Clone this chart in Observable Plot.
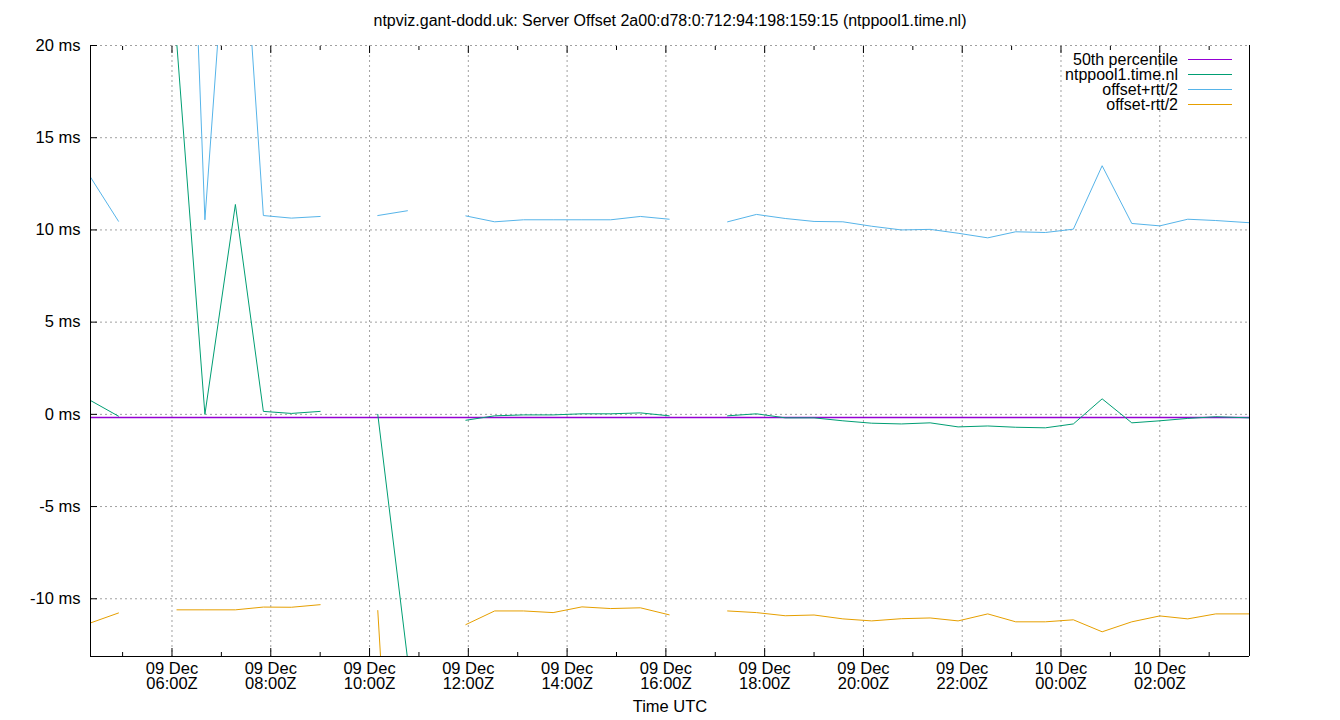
<!DOCTYPE html>
<html>
<head>
<meta charset="utf-8">
<script src="https://cdn.jsdelivr.net/npm/d3@7"></script>
<script src="https://cdn.jsdelivr.net/npm/@observablehq/plot@0.6"></script>
<style>
  body { margin: 0; background: #fff; }
  #wrap { position: relative; width: 1340px; height: 720px; font-family: "Liberation Sans", Arial, sans-serif; }
  #legend { position: absolute; left: 960px; top: 52px; font-size: 16px; color: #000; }
  .row { display: flex; align-items: center; height: 15px; line-height: 15px; }
  .row .lab { width: 218px; text-align: right; white-space: nowrap; }
  .row .sw { width: 44px; height: 0; border-top: 1.5px solid; margin-left: 10px; }
</style>
</head>
<body>
<div id="wrap"><div id="legend"></div></div>
<script>
const title = "ntpviz.gant-dodd.uk: Server Offset 2a00:d78:0:712:94:198:159:15 (ntppool1.time.nl)";
const xLabel = "Time UTC";

const times = [
  "2024-12-09T04:21:00Z", "2024-12-09T04:55:00Z", "2024-12-09T05:30:00Z", "2024-12-09T06:06:00Z",
  "2024-12-09T06:40:00Z", "2024-12-09T07:17:00Z", "2024-12-09T07:51:00Z", "2024-12-09T08:25:00Z",
  "2024-12-09T09:00:00Z", "2024-12-09T09:35:00Z", "2024-12-09T10:10:00Z", "2024-12-09T10:46:00Z",
  "2024-12-09T11:22:00Z", "2024-12-09T11:57:00Z", "2024-12-09T12:32:00Z", "2024-12-09T13:07:00Z",
  "2024-12-09T13:43:00Z", "2024-12-09T14:18:00Z", "2024-12-09T14:53:00Z", "2024-12-09T15:29:00Z",
  "2024-12-09T16:04:00Z", "2024-12-09T16:39:00Z", "2024-12-09T17:15:00Z", "2024-12-09T17:50:00Z",
  "2024-12-09T18:25:00Z", "2024-12-09T19:00:00Z", "2024-12-09T19:35:00Z", "2024-12-09T20:10:00Z",
  "2024-12-09T20:46:00Z", "2024-12-09T21:21:00Z", "2024-12-09T21:55:00Z", "2024-12-09T22:31:00Z",
  "2024-12-09T23:05:00Z", "2024-12-09T23:41:00Z", "2024-12-10T00:15:00Z", "2024-12-10T00:50:00Z",
  "2024-12-10T01:26:00Z", "2024-12-10T02:00:00Z", "2024-12-10T02:34:00Z", "2024-12-10T03:08:00Z",
  "2024-12-10T03:49:00Z"
];

// ntppool1.time.nl offset (ms); null = no sample (line break)
const offset = [
  0.75, -0.10, null, 20.0, 0.0, 11.38, 0.16, 0.05, 0.16, null,
  0.0, -13.2, null, -0.32, -0.08, -0.03, -0.03, 0.03, 0.03, 0.08,
  -0.08, null, -0.08, 0.03, -0.19, -0.19, -0.35, -0.48, -0.52, -0.46,
  -0.68, -0.63, -0.70, -0.73, -0.52, 0.84, -0.46, -0.35, -0.22, -0.13,
  -0.19
];
// offset + rtt/2 (ms)
const plusRtt = [
  12.86, 10.47, null, 50.6, 10.55, 33.4, 10.78, 10.64, 10.73, null,
  10.78, 11.04, null, 10.76, 10.44, 10.55, 10.55, 10.55, 10.55, 10.73,
  10.58, null, 10.44, 10.84, 10.62, 10.46, 10.44, 10.20, 10.00, 10.03,
  9.82, 9.57, 9.90, 9.86, 10.04, 13.48, 10.35, 10.22, 10.58, 10.51,
  10.39
];
// offset - rtt/2 (ms)
const minusRtt = [
  -11.31, -10.77, null, -10.60, -10.60, -10.60, -10.45, -10.46, -10.32, null,
  -10.64, -37.4, null, -11.40, -10.66, -10.66, -10.75, -10.44, -10.53, -10.49,
  -10.87, null, -10.66, -10.75, -10.92, -10.88, -11.09, -11.20, -11.08, -11.04,
  -11.20, -10.82, -11.25, -11.25, -11.14, -11.79, -11.25, -10.93, -11.09, -10.82,
  -10.82
];
const median = -0.17;

const yTicks = [-10, -5, 0, 5, 10, 15, 20];
const yDomain = [-13.13, 20];
const xMajorTicks = [
  "2024-12-09T06:00:00Z", "2024-12-09T08:00:00Z", "2024-12-09T10:00:00Z", "2024-12-09T12:00:00Z",
  "2024-12-09T14:00:00Z", "2024-12-09T16:00:00Z", "2024-12-09T18:00:00Z", "2024-12-09T20:00:00Z",
  "2024-12-09T22:00:00Z", "2024-12-10T00:00:00Z", "2024-12-10T02:00:00Z"
];
const xMinorTicks = [
  "2024-12-09T05:00:00Z", "2024-12-09T07:00:00Z", "2024-12-09T09:00:00Z", "2024-12-09T11:00:00Z",
  "2024-12-09T13:00:00Z", "2024-12-09T15:00:00Z", "2024-12-09T17:00:00Z", "2024-12-09T19:00:00Z",
  "2024-12-09T21:00:00Z", "2024-12-09T23:00:00Z", "2024-12-10T01:00:00Z", "2024-12-10T03:00:00Z"
];
const seriesNames = ["50th percentile", "ntppool1.time.nl", "offset+rtt/2", "offset-rtt/2"];
const seriesColors = ["#9400d3", "#009e73", "#56b4e9", "#e69f00"];

const parse = s => new Date(s);
const num = v => (v == null ? NaN : v);
const rows = times.map((t, i) => ({
  time: parse(t), offset: num(offset[i]), plus: num(plusRtt[i]), minus: num(minusRtt[i])
}));
const majors = xMajorTicks.map(parse);
const minors = xMinorTicks.map(parse);
const xDomain = d3.extent(rows, d => d.time);
const fmt = d3.utcFormat("%d %b\n%H:%MZ");
const grid = {stroke: "#a0a0a0", strokeOpacity: 1, strokeWidth: 1, strokeDasharray: "2,3"};

const chart = Plot.plot({
  width: 1340,
  height: 720,
  marginTop: 45,
  marginBottom: 64,
  marginLeft: 90,
  marginRight: 91,
  style: {fontFamily: "'Liberation Sans', Arial, sans-serif", fontSize: "16.5px", color: "#000", background: "#fff", overflow: "visible"},
  x: {type: "utc", domain: xDomain},
  y: {type: "linear", domain: yDomain},
  marks: [
    Plot.gridY(yTicks, grid),
    Plot.gridX(majors, grid),
    Plot.ruleY([median], {stroke: seriesColors[0], strokeWidth: 1.5}),
    Plot.line(rows, {x: "time", y: "offset", stroke: seriesColors[1], strokeWidth: 1, clip: true}),
    Plot.line(rows, {x: "time", y: "plus", stroke: seriesColors[2], strokeWidth: 1, clip: true}),
    Plot.line(rows, {x: "time", y: "minus", stroke: seriesColors[3], strokeWidth: 1, clip: true}),
    Plot.ruleX(xDomain, {stroke: "#000", strokeWidth: 1}),
    Plot.ruleY([yDomain[0]], {stroke: "#000", strokeWidth: 1}),
    // inward ticks
    Plot.axisY(yTicks, {anchor: "left", tickSize: 7, dx: 7, fill: "none", label: null}),
    Plot.axisX(majors, {anchor: "bottom", tickSize: 8, dy: -8, fill: "none", label: null}),
    Plot.axisX(minors, {anchor: "bottom", tickSize: 4, dy: -4, fill: "none", label: null}),
    Plot.axisX(majors, {anchor: "top", tickSize: 7, dy: 7, fill: "none", label: null}),
    Plot.axisX(minors, {anchor: "top", tickSize: 4, dy: 4, fill: "none", label: null}),
    // tick labels
    Plot.axisY(yTicks, {anchor: "left", tickSize: 0, tickPadding: 10, tickFormat: d => `${d} ms`, label: null}),
    Plot.axisX(majors, {anchor: "bottom", tickSize: 0, tickPadding: 6, tickFormat: fmt, lineHeight: 0.95, label: null}),
    Plot.text([title], {text: d => d, frameAnchor: "top", dy: -25, lineAnchor: "middle", fontSize: 16}),
    Plot.text([xLabel], {text: d => d, frameAnchor: "bottom", dy: 50, lineAnchor: "middle"})
  ]
});

const wrap = document.getElementById("wrap");
wrap.insertBefore(chart, wrap.firstChild);

const legend = document.getElementById("legend");
seriesNames.forEach((name, i) => {
  const row = document.createElement("div");
  row.className = "row";
  const lab = document.createElement("span");
  lab.className = "lab";
  lab.textContent = name;
  const sw = document.createElement("span");
  sw.className = "sw";
  sw.style.borderTopColor = seriesColors[i];
  row.appendChild(lab);
  row.appendChild(sw);
  legend.appendChild(row);
});
</script>
</body>
</html>
